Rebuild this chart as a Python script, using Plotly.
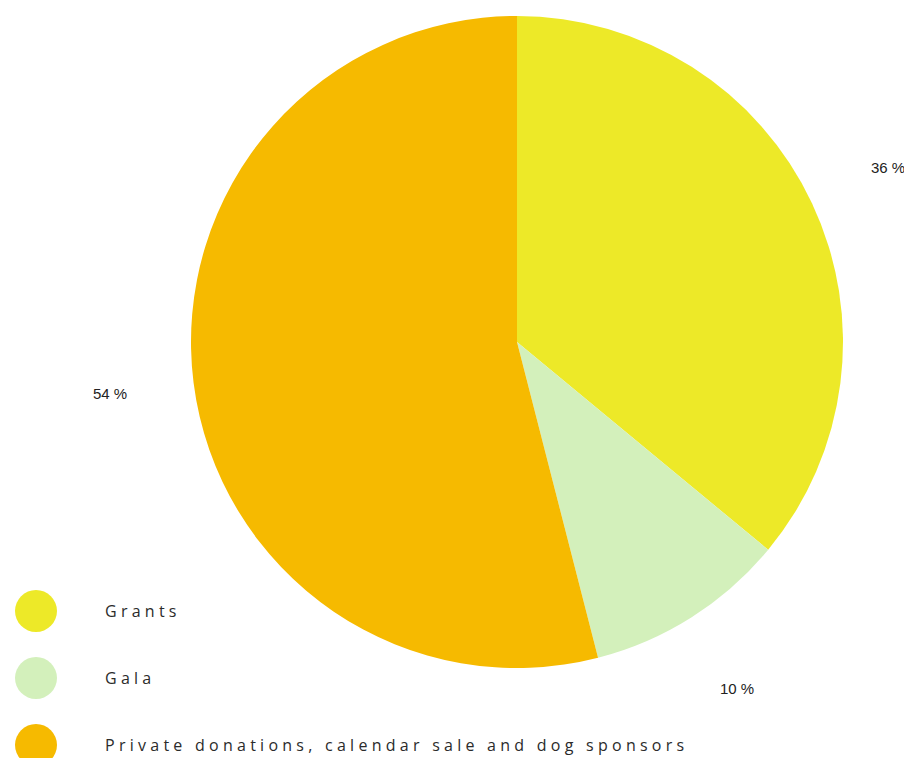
import math
import plotly.graph_objects as go

categories = ["Grants", "Gala", "Private donations, calendar sale and dog sponsors"]
values = [36, 10, 54]
colors = ["#EDE928", "#D3F0BB", "#F6BA00"]

W, H = 912, 758
off = 8  # page body margin
cx, cy, r = 517 - off, 342 - off, 326
label_r = 410

fig = go.Figure(go.Pie(
    labels=categories, values=values, sort=False, direction="clockwise",
    rotation=0, marker=dict(colors=colors, line=dict(width=0)),
    textinfo="none", hoverinfo="label+percent", showlegend=False,
    domain=dict(x=[(cx - r) / W, (cx + r) / W], y=[1 - (cy + r) / H, 1 - (cy - r) / H]),
))

annotations = []
shapes = []
total = sum(values)
cum = 0
for v in values:
    mid = (cum + v / 2) / total * 2 * math.pi
    cum += v
    x = cx + label_r * math.sin(mid)
    y = cy - label_r * math.cos(mid)
    annotations.append(dict(
        x=x / W, y=1 - y / H, xref="paper", yref="paper", showarrow=False,
        text=f"{round(v / total * 100)} %", xanchor="center", yanchor="middle",
        font=dict(family="Liberation Sans, Arial", size=15, color="#222"),
    ))

sp = "\u2009\u200a"
for i, (cat, col) in enumerate(zip(categories, colors)):
    ly = 611 - off + i * 67
    shapes.append(dict(type="circle", xref="paper", yref="paper",
                       x0=(15 - off) / W, x1=(57 - off) / W,
                       y0=1 - (ly + 21) / H, y1=1 - (ly - 21) / H,
                       fillcolor=col, line=dict(width=0)))
    annotations.append(dict(
        x=(103 - off) / W, y=1 - ly / H, xref="paper", yref="paper", showarrow=False,
        text=sp.join(cat), xanchor="left", yanchor="middle",
        font=dict(family="Open Sans", size=16, color="#2b2b2b"),
    ))

fig.update_layout(
    width=W, height=H, margin=dict(l=0, r=0, t=0, b=0),
    paper_bgcolor="white", plot_bgcolor="white",
    annotations=annotations, shapes=shapes,
)
fig.write_html("out.html")
